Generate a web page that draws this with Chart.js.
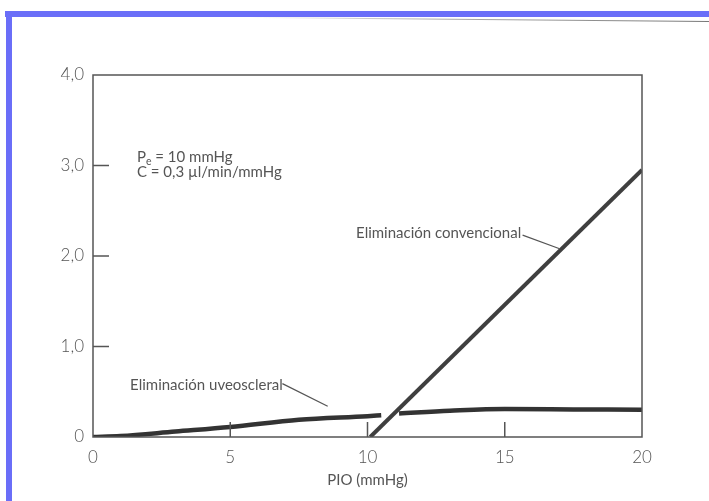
<!DOCTYPE html>
<html>
<head>
<meta charset="utf-8">
<script src="https://cdn.jsdelivr.net/npm/chart.js@4"></script>
<style>
  html, body { margin: 0; padding: 0; background: #fff; }
  #wrap { position: relative; width: 709px; height: 501px; overflow: hidden; }
  .bar { position: absolute; background: #6a6ef8; }
  #bar-top { left: 5px; top: 11px; width: 704px; height: 6px; }
  #bar-left { left: 6px; top: 11px; width: 6px; height: 490px; }
</style>
</head>
<body>
<div id="wrap">
  <canvas id="chart" width="709" height="501"></canvas>
  <div class="bar" id="bar-top"></div>
  <div class="bar" id="bar-left"></div>
</div>
<script>
// ─── Data ─────────────────────────────────────────────────────────────────────

// PIO (mmHg) on x, outflow (µl/min) on y
const convX = [10.1, 20];
const convY = [0, 2.95];

// uveoscleral curve; the null leaves the gap where the conventional line crosses
const uveoX = [0, 1, 3, 5, 7.5, 10, 10.5, 10.8, 11.15, 13, 15, 17.5, 20];
const uveoY = [0, 0.01, 0.06, 0.11, 0.19, 0.23, 0.24, null, 0.26, 0.29, 0.31, 0.305, 0.30];

const xTickValues = [0, 5, 10, 15, 20];
const xTickLabels = ['0', '5', '10', '15', '20'];
const yTickValues = [0, 1, 2, 3, 4];
const yTickLabels = ['0', '1,0', '2,0', '3,0', '4,0'];

const INK = '#555';
const LINE = '#3f3f3f';
const FONT = 'Lato, "Open Sans", sans-serif';

function toPoints(xs, ys) {
  return xs.map((x, i) => ({ x, y: ys[i] }));
}

// ─── Decorations: box, inward ticks, notes ────────────────────────────────────

const decorations = {
  id: 'decorations',
  beforeDraw(chart) {
    const ctx = chart.ctx;
    // faint scan line along the top edge
    ctx.save();
    const g = ctx.createLinearGradient(250, 0, 709, 0);
    g.addColorStop(0, 'rgba(150,150,150,0)');
    g.addColorStop(0.4, 'rgba(150,150,150,0.8)');
    g.addColorStop(1, 'rgba(120,120,120,1)');
    ctx.strokeStyle = g;
    ctx.lineWidth = 1.2;
    ctx.beginPath();
    ctx.moveTo(250, 17.5);
    ctx.lineTo(709, 21.5);
    ctx.stroke();
    ctx.restore();
  },
  afterDatasetsDraw(chart) {
    const { ctx, chartArea: a, scales: { x, y } } = chart;
    ctx.save();

    // plot frame
    ctx.strokeStyle = INK;
    ctx.lineWidth = 1.5;
    ctx.strokeRect(a.left, a.top, a.right - a.left, a.bottom - a.top);

    // inward tick marks
    ctx.beginPath();
    yTickValues.slice(1, -1).forEach(v => {
      const py = y.getPixelForValue(v);
      ctx.moveTo(a.left, py);
      ctx.lineTo(a.left + 16, py);
    });
    xTickValues.slice(1, -1).forEach(v => {
      const px = x.getPixelForValue(v);
      ctx.moveTo(px, a.bottom);
      ctx.lineTo(px, a.bottom - 15);
    });
    ctx.stroke();

    // parameter note (two tight lines, P with subscript e)
    ctx.fillStyle = INK;
    ctx.textBaseline = 'alphabetic';
    ctx.textAlign = 'left';
    const nx = x.getPixelForValue(1.6);
    const ny1 = y.getPixelForValue(3.035);
    const ny2 = y.getPixelForValue(2.87);
    ctx.font = `15px ${FONT}`;
    ctx.fillText('P', nx, ny1);
    const pw = ctx.measureText('P').width;
    ctx.font = `10.5px ${FONT}`;
    ctx.fillText('e', nx + pw, ny1 + 3);
    const ew = ctx.measureText('e').width;
    ctx.font = `15px ${FONT}`;
    ctx.fillText(' = 10 mmHg', nx + pw + ew, ny1);
    ctx.fillText('C = 0,3 \u00b5l/min/mmHg', nx, ny2);

    // series labels with leader lines
    ctx.textBaseline = 'middle';
    ctx.font = `15px ${FONT}`;
    ctx.textAlign = 'right';
    ctx.fillText('Eliminación convencional', x.getPixelForValue(15.6), y.getPixelForValue(2.25));
    ctx.textAlign = 'left';
    ctx.fillText('Eliminación uveoscleral', x.getPixelForValue(1.35), y.getPixelForValue(0.575));

    ctx.lineWidth = 1.2;
    ctx.beginPath();
    ctx.moveTo(x.getPixelForValue(15.65), y.getPixelForValue(2.23));
    ctx.lineTo(x.getPixelForValue(17.0), y.getPixelForValue(2.08));
    ctx.moveTo(x.getPixelForValue(6.9), y.getPixelForValue(0.59));
    ctx.lineTo(x.getPixelForValue(8.55), y.getPixelForValue(0.34));
    ctx.stroke();

    ctx.restore();
  },
};

// ─── Chart ────────────────────────────────────────────────────────────────────

new Chart(document.getElementById('chart'), {
  type: 'line',
  data: {
    datasets: [
      {
        label: 'Eliminación convencional',
        data: toPoints(convX, convY),
        borderColor: LINE,
        borderWidth: 4,
        pointRadius: 0,
        borderCapStyle: 'butt',
      },
      {
        label: 'Eliminación uveoscleral',
        data: toPoints(uveoX, uveoY),
        borderColor: '#333',
        borderWidth: 4.5,
        pointRadius: 0,
        spanGaps: false,
        cubicInterpolationMode: 'monotone',
      },
    ],
  },
  options: {
    responsive: false,
    animation: false,
    layout: { padding: { left: 0, right: 67, top: 75, bottom: 0 } },
    plugins: {
      legend: { display: false },
      tooltip: { enabled: false },
    },
    scales: {
      x: {
        type: 'linear',
        min: 0,
        max: 20,
        afterBuildTicks: s => { s.ticks = xTickValues.map(v => ({ value: v })); },
        afterFit: s => { s.height = 64; },
        grid: { display: false, drawTicks: false },
        border: { display: false },
        ticks: {
          padding: 10,
          color: INK,
          font: { family: FONT, size: 17, weight: '300' },
          callback: v => xTickLabels[xTickValues.indexOf(v)],
        },
        title: {
          display: true,
          text: 'PIO (mmHg)',
          color: INK,
          font: { family: FONT, size: 15 },
          padding: { top: 0, bottom: 12 },
        },
      },
      y: {
        type: 'linear',
        min: 0,
        max: 4,
        afterBuildTicks: s => { s.ticks = yTickValues.map(v => ({ value: v })); },
        afterFit: s => { s.width = 93; },
        grid: { display: false, drawTicks: false },
        border: { display: false },
        ticks: {
          padding: 9,
          color: INK,
          font: { family: FONT, size: 17, weight: '300' },
          callback: v => yTickLabels[yTickValues.indexOf(v)],
        },
      },
    },
  },
  plugins: [decorations],
});
</script>
</body>
</html>
